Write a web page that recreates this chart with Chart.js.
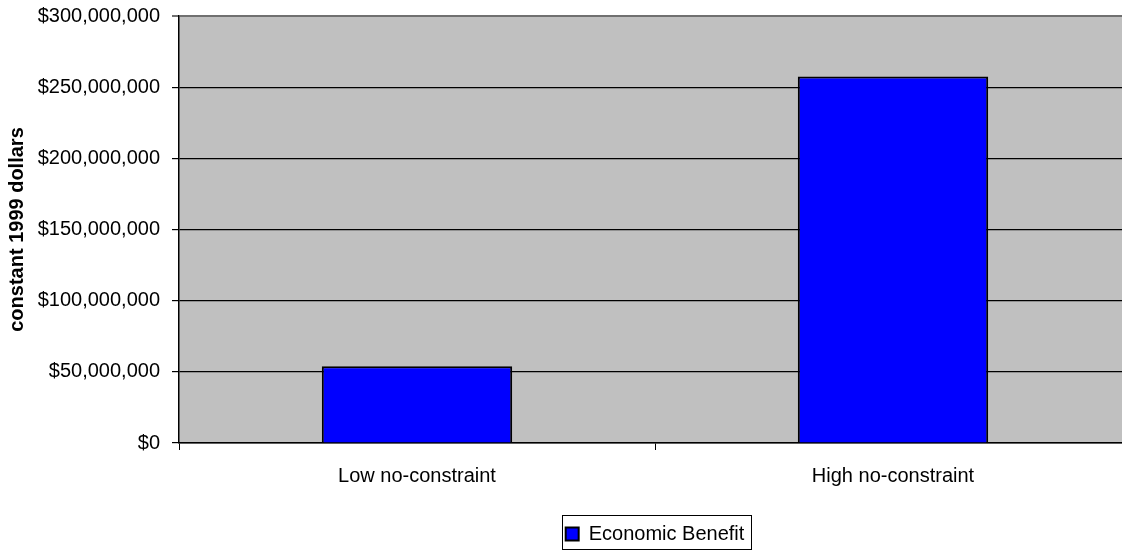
<!DOCTYPE html>
<html>
<head>
<meta charset="utf-8">
<script src="https://cdn.jsdelivr.net/npm/chart.js@4/dist/chart.umd.min.js"></script>
<style>
  html, body { margin: 0; padding: 0; background: #ffffff; overflow: hidden; width: 1122px; height: 550px; }
  #wrap { width: 1132px; height: 550px; }
</style>
</head>
<body>
<div id="wrap"><canvas id="c" width="1132" height="550"></canvas></div>
<script>
const categories = ["Low no-constraint", "High no-constraint"];
const seriesName = "Economic Benefit";
const benefitValues = [54000000, 257500000];
const yTickValues = [0, 50000000, 100000000, 150000000, 200000000, 250000000, 300000000];
const yAxisTitle = "constant 1999 dollars";

const FONT = "'Liberation Sans', Arial, sans-serif";

const plotBg = {
  id: 'plotBg',
  beforeDraw(chart) {
    const { ctx, chartArea: a } = chart;
    ctx.save();
    ctx.fillStyle = '#c0c0c0';
    ctx.fillRect(a.left, a.top, a.right - a.left, a.bottom - a.top);
    ctx.restore();
  },
  afterDraw(chart) {
    const lg = chart.legend;
    if (!lg || !lg.legendHitBoxes || !lg.legendHitBoxes.length) return;
    const hb = lg.legendHitBoxes[0];
    const { ctx } = chart;
    ctx.save();
    ctx.strokeStyle = '#000000';
    ctx.lineWidth = 1;
    const x0 = Math.round(hb.left - 4) + 0.5;
    const y0 = Math.round(hb.top - 9) + 0.5;
    const w = Math.round(hb.width + 10);
    const h = Math.round(hb.height + 14);
    ctx.strokeRect(x0, y0, w, h);
    ctx.restore();
  }
};

new Chart(document.getElementById('c'), {
  type: 'bar',
  data: {
    labels: categories,
    datasets: [{
      label: seriesName,
      data: benefitValues,
      backgroundColor: '#0000ff',
      borderColor: '#000000',
      borderWidth: 2,
      categoryPercentage: 1.0,
      barPercentage: 0.4
    }]
  },
  options: {
    responsive: false,
    animation: false,
    devicePixelRatio: 1,
    layout: { padding: { left: 0, right: 1, top: 16, bottom: -4 } },
    plugins: {
      legend: {
        display: true,
        position: 'bottom',
        fullSize: false,
        labels: {
          font: { family: FONT, size: 20 },
          color: '#000000',
          boxWidth: 13,
          boxHeight: 13,
          padding: 2
        }
      },
      tooltip: { enabled: false }
    },
    scales: {
      x: {
        offset: true,
        grid: {
          offset: true,
          drawOnChartArea: false,
          drawTicks: true,
          tickLength: 7,
          color: '#000000',
          lineWidth: 1
        },
        border: { display: true, color: '#000000', width: 1.5 },
        ticks: {
          font: { family: FONT, size: 20 },
          color: '#000000',
          padding: 14,
          maxRotation: 0
        },
        afterFit(scale) { scale.height = 79; scale.paddingLeft = 0; scale.paddingRight = 0; }
      },
      y: {
        min: 0,
        max: 300000000,
        afterBuildTicks(scale) { scale.ticks = yTickValues.map(v => ({ value: v })); },
        grid: {
          drawTicks: true,
          tickLength: 7,
          color: (c) => (c.tick && c.tick.value === 300000000) ? '#707070' : '#000000',
          lineWidth: (c) => (c.tick && c.tick.value === 300000000) ? 2 : 1.2
        },
        border: { display: true, color: '#000000', width: 1.5 },
        ticks: {
          font: { family: FONT, size: 20 },
          color: '#000000',
          padding: 12,
          callback: (v) => '$' + Number(v).toLocaleString('en-US')
        },
        title: {
          display: true,
          text: yAxisTitle,
          font: { family: FONT, size: 20, weight: 'bold' },
          color: '#000000',
          padding: { top: 5, bottom: 0 }
        },
        afterFit(scale) { scale.width = 179; scale.paddingTop = 0; scale.paddingBottom = 0; }
      }
    }
  },
  plugins: [plotBg]
});
</script>
</body>
</html>
